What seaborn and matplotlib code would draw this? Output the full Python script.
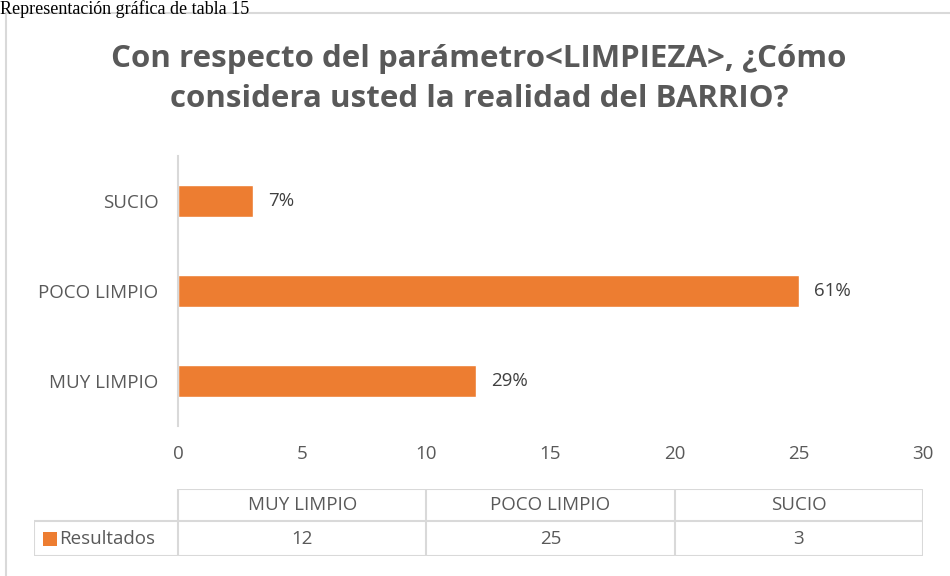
import matplotlib
matplotlib.use('Agg')
import matplotlib.pyplot as plt
import seaborn as sns
import pandas as pd
from matplotlib.patches import Rectangle

# ==============================
# DATA
# ==============================
categories = ['MUY LIMPIO', 'POCO LIMPIO', 'SUCIO']
counts = [12, 25, 3]
pct_labels = ['29%', '61%', '7%']
series_name = 'Resultados'
x_ticks = [0, 5, 10, 15, 20, 25, 30]

TITLE = 'Con respecto del parámetro<LIMPIEZA>, ¿Cómo\nconsidera usted la realidad del BARRIO?'
CAPTION = 'Representación gráfica de tabla 15'

ORANGE = '#ED7D31'
GRID = '#d9d9d9'
TXT = '#595959'

W, H = 950, 576
FS = 13.5


def fx(px):
    return px / W


def fy(py):
    return 1 - py / H


# ==============================
# FIGURE
# ==============================
sns.set_theme(style='white')
plt.rcParams['font.family'] = ['Open Sans', 'DejaVu Sans']

fig = plt.figure(figsize=(W / 100, H / 100), dpi=100)

# chart frame
fig.patches.append(Rectangle((fx(6), fy(590)), fx(960) - fx(6), fy(13) - fy(590),
                             transform=fig.transFigure, fill=False,
                             edgecolor=GRID, linewidth=1.5))

fig.text(0.0, 1.0, CAPTION, family='Liberation Serif', fontsize=13,
         color='black', va='top', ha='left')
fig.text(fx(479), fy(79), TITLE, fontsize=22.5, fontweight='bold', color=TXT,
         ha='center', va='center', linespacing=1.45)

# ==============================
# BAR CHART
# ==============================
ax_left, ax_right = 178, 923
ax = fig.add_axes([fx(ax_left), fy(426), fx(ax_right) - fx(ax_left), fy(156) - fy(426)])

df = pd.DataFrame({'cat': categories, 'val': counts, 'lab': pct_labels})
order = categories[::-1]
sns.barplot(data=df, x='val', y='cat', order=order, color=ORANGE,
            width=0.35, orient='h', ax=ax, saturation=1)

ax.set_xlim(0, 30)
ax.set_xticks(x_ticks)
ax.set_xlabel('')
ax.set_ylabel('')
for s in ['top', 'right', 'bottom']:
    ax.spines[s].set_visible(False)
ax.spines['left'].set_color(GRID)
ax.spines['left'].set_linewidth(1.5)
ax.tick_params(axis='x', length=0, pad=14, labelsize=FS, labelcolor=TXT)
ax.tick_params(axis='y', length=0, pad=14, labelsize=FS, labelcolor=TXT)

for cat, val, lab in zip(categories, counts, pct_labels):
    ax.annotate(lab, (val, order.index(cat)), xytext=(11, 0),
                textcoords='offset points', va='center', ha='left',
                fontsize=FS, color='#404040')

# ==============================
# DATA TABLE
# ==============================
tab_left = 34
scale = (ax_right - ax_left) / 30.0
x_min = (tab_left - ax_left) / scale
tax = fig.add_axes([fx(tab_left), fy(556), fx(ax_right) - fx(tab_left), fy(489) - fy(556)])
tax.set_xlim(x_min, 30)
tax.set_ylim(0, 2)
tax.axis('off')

edges = [0, 10, 20, 30]
lw = 1.5
tax.hlines(2, 0, 30, color=GRID, lw=lw)
tax.hlines([1.05, 0], x_min, 30, color=GRID, lw=lw)
tax.vlines(edges, 0, 2, color=GRID, lw=lw)
tax.vlines(x_min, 0, 1.05, color=GRID, lw=lw)

for i, (cat, val) in enumerate(zip(categories, counts)):
    mid = (edges[i] + edges[i + 1]) / 2
    tax.text(mid, 1.52, cat, ha='center', va='center', fontsize=FS, color=TXT)
    tax.text(mid, 0.5, str(val), ha='center', va='center', fontsize=FS, color=TXT)

tax.add_patch(Rectangle((x_min + 9 / scale, 0.3), 14 / scale, 0.42,
                        facecolor=ORANGE, edgecolor='none'))
tax.text(x_min + 25 / scale, 0.52, series_name, ha='left', va='center',
         fontsize=FS, color=TXT)

fig.savefig('out.png', dpi=100)
